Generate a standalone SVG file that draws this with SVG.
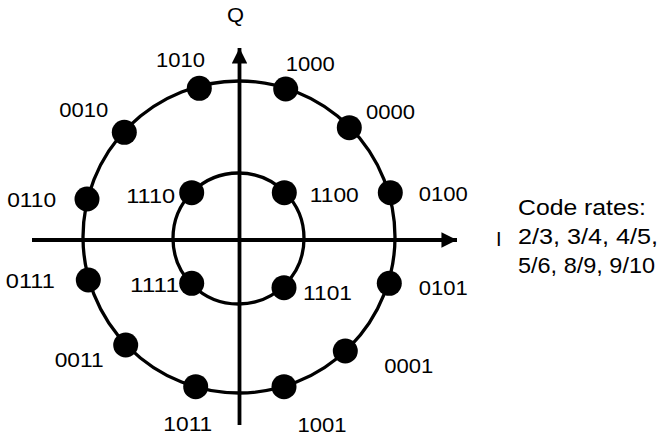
<svg xmlns="http://www.w3.org/2000/svg" width="664" height="437" viewBox="0 0 664 437">
<defs>
<style>
.lbl{font-family:"Liberation Sans",Arial,sans-serif;font-size:20px;fill:#000;text-anchor:middle}
.cr{font-family:"Liberation Sans",Arial,sans-serif;font-size:21.5px;fill:#000}
.ring{fill:none;stroke:#000;stroke-width:3.3}
.axis{stroke:#000;stroke-width:3.8;fill:none}
.dot{fill:#000}
</style>
<marker id="ah" viewBox="0 0 10 10" refX="10" refY="5" markerWidth="4.3" markerHeight="4.1" markerUnits="strokeWidth" orient="auto">
<path d="M0,0 L10,5 L0,10 Z" fill="#000"/>
</marker>
</defs>
<rect width="664" height="437" fill="#fff"/>
<g id="rings">
<circle class="ring" cx="239" cy="237" r="156"/>
<circle class="ring" cx="238.5" cy="238.5" r="65.5"/>
</g>
<g id="connectors">
<line class="axis" x1="239.5" y1="425" x2="239.5" y2="48" marker-end="url(#ah)"/>
<line class="axis" x1="32" y1="240" x2="457" y2="240" marker-end="url(#ah)"/>
</g>
<g id="axis-labels">
<text class="lbl" x="235.5" y="22" textLength="17" lengthAdjust="spacingAndGlyphs">Q</text>
<text class="lbl" x="498.7" y="246" font-size="21">I</text>
</g>
<g id="n1010"><circle class="dot" cx="199.3" cy="88.3" r="12.5"/><text class="lbl" x="180.5" y="67" textLength="49" lengthAdjust="spacingAndGlyphs">1010</text></g>
<g id="n1000"><circle class="dot" cx="285.7" cy="89" r="12.5"/><text class="lbl" x="310.3" y="71" textLength="49" lengthAdjust="spacingAndGlyphs">1000</text></g>
<g id="n0010"><circle class="dot" cx="124.3" cy="132.3" r="12.5"/><text class="lbl" x="83.7" y="117" textLength="49" lengthAdjust="spacingAndGlyphs">0010</text></g>
<g id="n0000"><circle class="dot" cx="349.3" cy="127.7" r="12.5"/><text class="lbl" x="390.5" y="119" textLength="49" lengthAdjust="spacingAndGlyphs">0000</text></g>
<g id="n0110"><circle class="dot" cx="87" cy="199" r="12.5"/><text class="lbl" x="31.7" y="207" textLength="49" lengthAdjust="spacingAndGlyphs">0110</text></g>
<g id="n0100"><circle class="dot" cx="390.3" cy="192.7" r="12.5"/><text class="lbl" x="443.2" y="201" textLength="49" lengthAdjust="spacingAndGlyphs">0100</text></g>
<g id="n1110"><circle class="dot" cx="191.7" cy="192.7" r="12.5"/><text class="lbl" x="150.7" y="203" textLength="49" lengthAdjust="spacingAndGlyphs">1110</text></g>
<g id="n1100"><circle class="dot" cx="284.3" cy="192.7" r="12.5"/><text class="lbl" x="334.3" y="202" textLength="49" lengthAdjust="spacingAndGlyphs">1100</text></g>
<g id="n0111"><circle class="dot" cx="88.3" cy="280" r="12.5"/><text class="lbl" x="30.3" y="288" textLength="49" lengthAdjust="spacingAndGlyphs">0111</text></g>
<g id="n0101"><circle class="dot" cx="389.3" cy="283.3" r="12.5"/><text class="lbl" x="443.2" y="295" textLength="49" lengthAdjust="spacingAndGlyphs">0101</text></g>
<g id="n1111"><circle class="dot" cx="191.7" cy="283.3" r="12.5"/><text class="lbl" x="154.5" y="292" textLength="49" lengthAdjust="spacingAndGlyphs">1111</text></g>
<g id="n1101"><circle class="dot" cx="284" cy="287.7" r="12.5"/><text class="lbl" x="327.5" y="300" textLength="49" lengthAdjust="spacingAndGlyphs">1101</text></g>
<g id="n0011"><circle class="dot" cx="125.7" cy="345" r="12.5"/><text class="lbl" x="79.2" y="367" textLength="49" lengthAdjust="spacingAndGlyphs">0011</text></g>
<g id="n0001"><circle class="dot" cx="345.3" cy="351" r="12.5"/><text class="lbl" x="408.7" y="373" textLength="49" lengthAdjust="spacingAndGlyphs">0001</text></g>
<g id="n1011"><circle class="dot" cx="195.7" cy="386.7" r="12.5"/><text class="lbl" x="187.8" y="431" textLength="49" lengthAdjust="spacingAndGlyphs">1011</text></g>
<g id="n1001"><circle class="dot" cx="284" cy="386.7" r="12.5"/><text class="lbl" x="322" y="432" textLength="49" lengthAdjust="spacingAndGlyphs">1001</text></g>
<g id="code-rates">
<text class="cr" x="518" y="215" textLength="128" lengthAdjust="spacingAndGlyphs">Code rates:</text>
<text class="cr" x="518" y="244" textLength="140" lengthAdjust="spacingAndGlyphs">2/3, 3/4, 4/5,</text>
<text class="cr" x="518" y="273" textLength="137" lengthAdjust="spacingAndGlyphs">5/6, 8/9, 9/10</text>
</g>
</svg>
